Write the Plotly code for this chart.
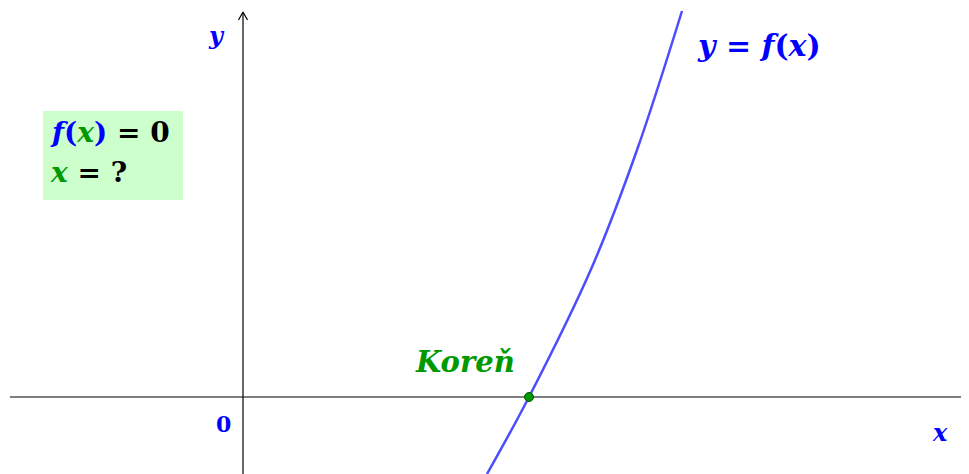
import plotly.graph_objects as go

# curve points (math units, origin at axes crossing)
curve_x = [2.44, 2.86, 3.49, 3.94, 4.39]
curve_y = [-0.77, 0.00, 1.30, 2.47, 3.86]
root_x = [2.86]
root_y = [0.0]

# page has an 8px body margin; figure sized to fit the window exactly
X_MIN, X_MAX = -2.35, 7.26
Y_MIN, Y_MAX = -0.77, 3.89

BLUE = "#0000ff"
CURVE = "#4d4dff"
GREEN = "#009900"
FONT = "DejaVu Serif"

fig = go.Figure()

# x axis
fig.add_trace(go.Scatter(x=[-2.33, X_MAX], y=[0, 0], mode="lines",
                         line=dict(color="black", width=1.2), hoverinfo="skip"))
# y axis
fig.add_trace(go.Scatter(x=[0, 0], y=[Y_MIN, 3.84], mode="lines",
                         line=dict(color="black", width=1.2), hoverinfo="skip"))
# arrow head on y axis
fig.add_trace(go.Scatter(x=[-0.045, 0, 0.045], y=[3.77, 3.85, 3.77], mode="lines",
                         line=dict(color="black", width=1.2), hoverinfo="skip"))

# curve
fig.add_trace(go.Scatter(x=curve_x, y=curve_y, mode="lines",
                         line=dict(color=CURVE, width=2.5, shape="spline", smoothing=1.0),
                         hoverinfo="skip"))
# root
fig.add_trace(go.Scatter(x=root_x, y=root_y, mode="markers",
                         marker=dict(color=GREEN, size=9, line=dict(color="#005500", width=1)),
                         hoverinfo="skip"))

# green box
fig.add_shape(type="rect", xref="x", yref="y", x0=-2.00, x1=-0.60, y0=1.97, y1=2.86,
              fillcolor="#ccffcc", line=dict(width=0), layer="below")


def ann(x, y, text, color, size=24, xanchor="center"):
    fig.add_annotation(x=x, y=y, xref="x", yref="y", text=text, showarrow=False,
                       font=dict(family=FONT, size=size, color=color), xanchor=xanchor)


ann(-0.27, 3.62, "<b><i>y</i></b>", BLUE, size=24)
ann(-0.20, -0.27, "<b>0</b>", BLUE, size=22)
ann(6.97, -0.35, "<b><i>x</i></b>", BLUE, size=24)
ann(4.52, 3.52, "<b><i>y</i> = <i>f</i>(<i>x</i>)</b>", BLUE, size=30, xanchor="left")
ann(2.22, 0.35, "<b><i>Koreň</i></b>", GREEN, size=29)
ann(-1.95, 2.65,
    f"<b><i><span style='color:{BLUE}'>f</span></i><span style='color:{BLUE}'>(</span>"
    f"<i><span style='color:{GREEN}'>x</span></i><span style='color:{BLUE}'>)</span> = 0</b>",
    "black", size=28, xanchor="left")
ann(-1.95, 2.25,
    f"<b><i><span style='color:{GREEN}'>x</span></i> = ?</b>", "black", size=28, xanchor="left")

fig.update_layout(
    width=961, height=466,
    margin=dict(l=0, r=0, t=0, b=0),
    paper_bgcolor="white", plot_bgcolor="white",
    showlegend=False,
    xaxis=dict(range=[X_MIN, X_MAX], visible=False, fixedrange=True),
    yaxis=dict(range=[Y_MIN, Y_MAX], visible=False, fixedrange=True),
)

fig.write_html("out.html")
